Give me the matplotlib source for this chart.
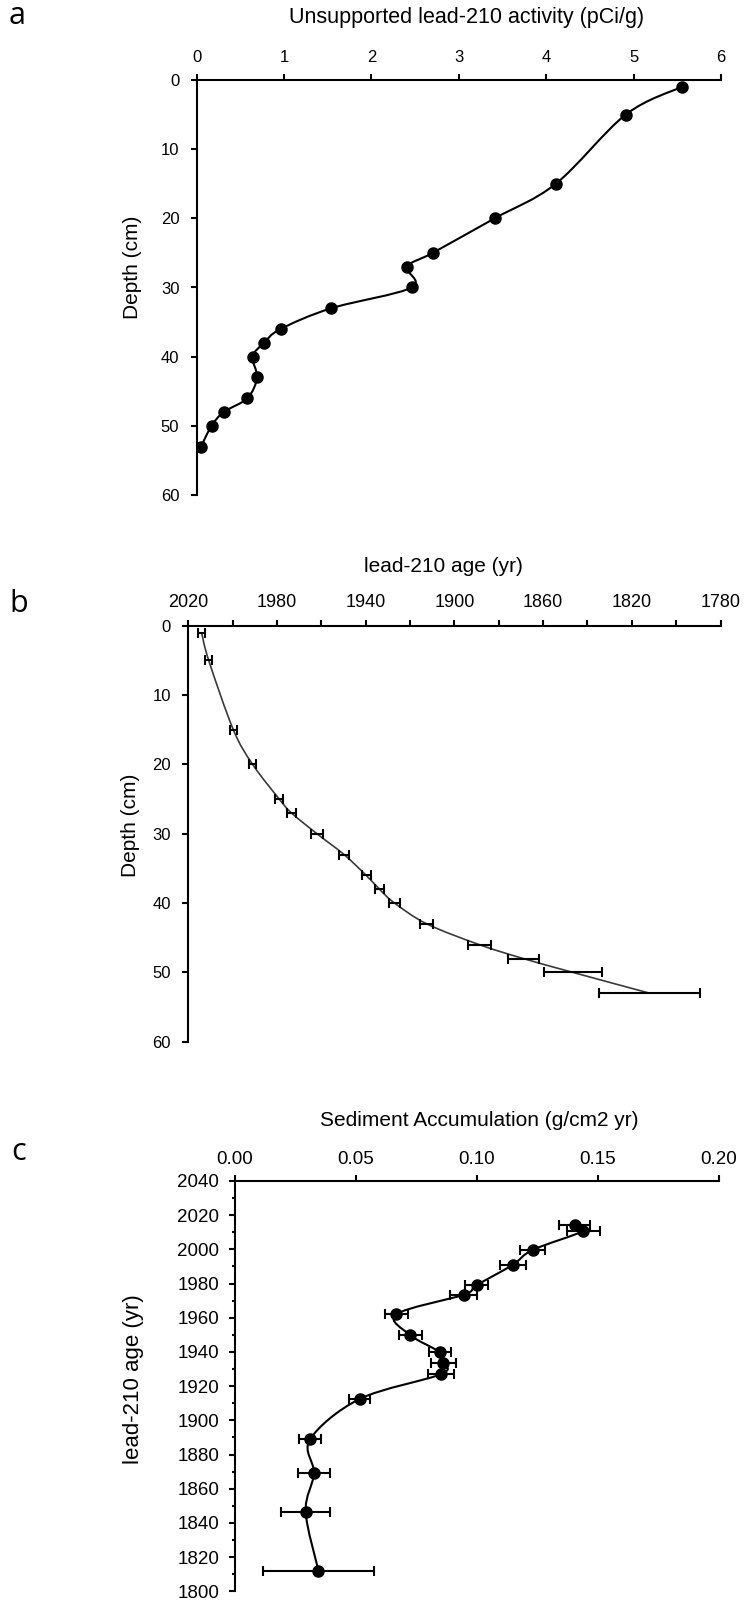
"""Lead-210 core profile: activity, age model and sediment accumulation (3 stacked panels)."""

import numpy as np
import matplotlib
matplotlib.use("Agg")
import matplotlib.pyplot as plt
from matplotlib.path import Path
from matplotlib.patches import PathPatch
from matplotlib.ticker import MultipleLocator, FixedLocator

plt.rcParams["font.family"] = ["Liberation Sans", "DejaVu Sans"]

W, H = 744, 1601

# ---- data ----
depth_cm = [1, 5, 15, 20, 25, 27, 30, 33, 36, 38, 40, 43, 46, 48, 50, 53]
pb210_activity = [5.55, 4.91, 4.11, 3.41, 2.70, 2.41, 2.46, 1.54, 0.96, 0.77,
                  0.64, 0.69, 0.58, 0.31, 0.17, 0.05]

age_yr = [2014.0, 2010.8, 1999.7, 1991.0, 1979.0, 1973.5, 1962.0, 1949.8,
          1939.8, 1933.8, 1927.0, 1912.5, 1888.8, 1869.0, 1846.6, 1812.0]
age_err = [1.5, 1.5, 1.6, 1.7, 1.9, 2.0, 2.7, 2.2, 2.0, 2.2, 2.5, 2.8,
           5.1, 7.0, 13.0, 22.6]
age_ticks = [2020, 1980, 1940, 1900, 1860, 1820, 1780]
age_minor = [2000, 1960, 1920, 1880, 1840, 1800]

sed_accum = [0.1403, 0.1440, 0.1230, 0.1148, 0.0998, 0.0945, 0.0666, 0.0725,
             0.0847, 0.0861, 0.0851, 0.0515, 0.0310, 0.0326, 0.0292, 0.0345]
sed_err = [0.0066, 0.0069, 0.0052, 0.0055, 0.0047, 0.0056, 0.0047, 0.0047,
           0.0044, 0.0053, 0.0054, 0.0042, 0.0044, 0.0065, 0.0100, 0.0229]

LETTER_FONT = ["Open Sans", "DejaVu Sans"]


def smooth_path(xs, ys):
    # Excel-like smoothed line: cubic bezier through the points (catmull-rom tangents)
    pts = np.column_stack([xs, ys]).astype(float)
    n = len(pts)
    verts = [pts[0]]
    codes = [Path.MOVETO]
    for i in range(n - 1):
        p0 = pts[i - 1] if i > 0 else pts[i]
        p1, p2 = pts[i], pts[i + 1]
        p3 = pts[i + 2] if i + 2 < n else pts[i + 1]
        verts += [p1 + (p2 - p0) / 6, p2 - (p3 - p1) / 6, p2]
        codes += [Path.CURVE4] * 3
    return Path(verts, codes)


def add_axes(left, right, top, bottom):
    ax = fig.add_axes([left / W, 1 - bottom / H, (right - left) / W, (bottom - top) / H])
    ax.spines["right"].set_visible(False)
    ax.spines["bottom"].set_visible(False)
    for s in ("left", "top"):
        ax.spines[s].set_linewidth(1.5)
    ax.xaxis.tick_top()
    ax.tick_params(which="both", direction="out", width=1.5, color="black")
    return ax


def ftext(x, y, s, **kw):
    fig.text(x / W, 1 - y / H, s, **kw)


fig = plt.figure(figsize=(W / 100, H / 100), dpi=100)

# ---- panel a ----
ax = add_axes(196.7, 721, 80, 495)
ax.add_patch(PathPatch(smooth_path(pb210_activity, depth_cm), fill=False, lw=1.5, color="black"))
ax.plot(pb210_activity, depth_cm, "o", color="black", markersize=8)
ax.set_xlim(0, 6)
ax.set_ylim(60, 0)
ax.xaxis.set_major_locator(MultipleLocator(1))
ax.yaxis.set_major_locator(MultipleLocator(10))
ax.tick_params(axis="x", length=4.5, pad=6, labelsize=12)
ax.tick_params(axis="y", length=4.5, pad=8, labelsize=12)
ftext(467, 17, "Unsupported lead-210 activity (pCi/g)", ha="center", va="center", fontsize=15.5)
ftext(132, 267, "Depth (cm)", ha="center", va="center", rotation=90, fontsize=15)
ftext(17, 16, "a", ha="center", va="center", fontsize=22, family=LETTER_FONT)

# ---- panel b ----
ax = add_axes(188.3, 720.5, 625.7, 1041.7)
ax.add_patch(PathPatch(smooth_path(age_yr, depth_cm), fill=False, lw=1.2, color="#3a3a3a"))
ax.errorbar(age_yr, depth_cm, xerr=age_err, fmt="none", ecolor="black",
            elinewidth=1.5, capsize=3.5, capthick=1.5)
ax.set_xlim(2020, 1780)
ax.set_ylim(60, 0)
ax.xaxis.set_major_locator(FixedLocator(age_ticks))
ax.xaxis.set_minor_locator(FixedLocator(age_minor))
ax.yaxis.set_major_locator(MultipleLocator(10))
ax.tick_params(axis="x", which="both", length=4.5, pad=6, labelsize=13)
ax.tick_params(axis="y", length=4.5, pad=8, labelsize=12)
ftext(443.5, 566, "lead-210 age (yr)", ha="center", va="center", fontsize=15)
ftext(130, 825, "Depth (cm)", ha="center", va="center", rotation=90, fontsize=15)
ftext(19, 604, "b", ha="center", va="center", fontsize=22, family=LETTER_FONT)

# ---- panel c ----
ax = add_axes(235, 719, 1181, 1591.3)
ax.add_patch(PathPatch(smooth_path(sed_accum, age_yr), fill=False, lw=1.5, color="black"))
ax.errorbar(sed_accum, age_yr, xerr=sed_err, fmt="o", color="black", markersize=8,
            elinewidth=1.5, capsize=3.5, capthick=1.5)
ax.set_xlim(0, 0.20)
ax.set_ylim(1800, 2040)
ax.xaxis.set_major_locator(MultipleLocator(0.05))
ax.xaxis.set_major_formatter(plt.FormatStrFormatter("%.2f"))
ax.yaxis.set_major_locator(MultipleLocator(20))
ax.yaxis.set_minor_locator(MultipleLocator(10))
ax.tick_params(axis="x", length=4.5, pad=5, labelsize=13.5)
ax.tick_params(axis="y", which="major", length=4.5, pad=7, labelsize=13.5)
ax.tick_params(axis="y", which="minor", length=2.5)
ftext(479, 1120, "Sediment Accumulation (g/cm2 yr)", ha="center", va="center", fontsize=15)
ftext(133, 1379, "lead-210 age (yr)", ha="center", va="center", rotation=90, fontsize=16)
ftext(19, 1152, "c", ha="center", va="center", fontsize=22, family=LETTER_FONT)

fig.savefig("out.png", dpi=100)
